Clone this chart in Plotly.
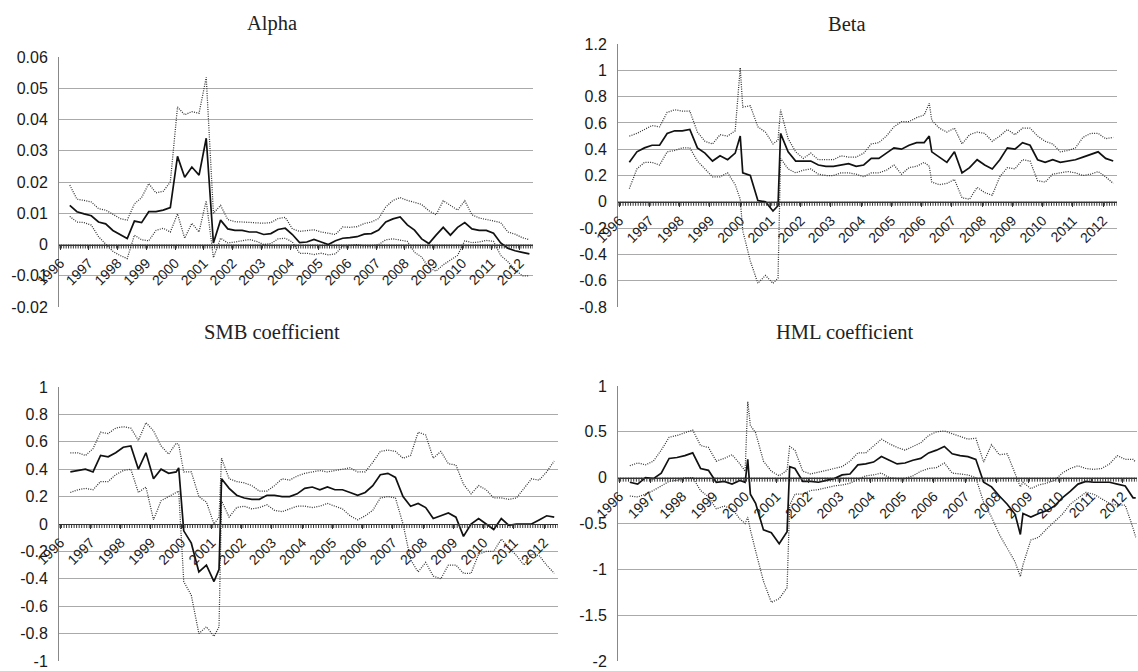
import plotly.graph_objects as go

# ---------------- data (month index: 0 = Jan 1996) ----------------
n_categories = 198
year_ticks = [0, 12, 24, 36, 48, 60, 72, 84, 96, 108, 120, 132, 144, 156, 168, 180, 192]
year_labels = ["1996", "1997", "1998", "1999", "2000", "2001", "2002", "2003", "2004",
               "2005", "2006", "2007", "2008", "2009", "2010", "2011", "2012"]

alpha_months = [4, 7, 10, 13, 16, 19, 22, 25, 28, 31, 34, 37, 40, 43, 46, 49, 52, 55, 58, 61,
                64, 67, 70, 73, 76, 79, 82, 85, 88, 91, 94, 97, 100, 103, 106, 109, 112, 115, 118, 121,
                124, 127, 130, 133, 136, 139, 142, 145, 148, 151, 154, 157, 160, 163, 166, 169, 172, 175, 178, 181,
                184, 187, 190, 193, 196]
alpha_est = [0.0125, 0.0105, 0.0098, 0.0092, 0.0072, 0.0066, 0.0045, 0.0033, 0.0019, 0.0075,
             0.0070, 0.0105, 0.0105, 0.0110, 0.0118, 0.0282, 0.0215, 0.0248, 0.0222, 0.0340,
             0.0005, 0.0078, 0.0050, 0.0045, 0.0045, 0.0040, 0.0040, 0.0032, 0.0035, 0.0048,
             0.0052, 0.0032, 0.0006, 0.0008, 0.0016, 0.0008, 0.0000, 0.0012, 0.0020, 0.0022,
             0.0025, 0.0033, 0.0035, 0.0046, 0.0072, 0.0082, 0.0088, 0.0063, 0.0046, 0.0018,
             0.0003, 0.0030, 0.0055, 0.0030, 0.0055, 0.0070, 0.0050, 0.0045, 0.0045, 0.0036,
             0.0005, -0.0012, -0.0020, -0.0025, -0.0030]
alpha_upper = [0.0190, 0.0145, 0.0141, 0.0136, 0.0115, 0.0110, 0.0097, 0.0083, 0.0078, 0.0130,
               0.0150, 0.0195, 0.0165, 0.0170, 0.0200, 0.0440, 0.0415, 0.0425, 0.0420, 0.0535,
               0.0100, 0.0125, 0.0080, 0.0073, 0.0072, 0.0070, 0.0068, 0.0068, 0.0070, 0.0083,
               0.0087, 0.0050, 0.0042, 0.0045, 0.0047, 0.0040, 0.0035, 0.0032, 0.0056, 0.0055,
               0.0057, 0.0067, 0.0072, 0.0083, 0.0120, 0.0141, 0.0150, 0.0141, 0.0135, 0.0128,
               0.0108, 0.0095, 0.0140, 0.0125, 0.0110, 0.0140, 0.0095, 0.0085, 0.0080, 0.0073,
               0.0070, 0.0040, 0.0033, 0.0022, 0.0015]
alpha_lower = [0.0090, 0.0072, 0.0070, 0.0062, 0.0025, 0.0000, -0.0022, -0.0035, -0.0045, 0.0030,
               0.0015, 0.0012, 0.0045, 0.0052, 0.0040, 0.0098, 0.0020, 0.0068, 0.0040, 0.0140,
               -0.0042, 0.0020, 0.0005, 0.0008, 0.0012, 0.0016, 0.0010, 0.0000, 0.0003, 0.0018,
               0.0020, 0.0008, -0.0028, -0.0028, -0.0032, -0.0028, -0.0033, -0.0030, -0.0005, -0.0003,
               0.0000, -0.0005, -0.0005, 0.0000, 0.0015, 0.0018, 0.0015, 0.0010, -0.0025, -0.0040,
               -0.0075, -0.0085, -0.0065, -0.0050, -0.0035, 0.0012, 0.0006, 0.0008, 0.0013, 0.0010,
               -0.0035, -0.0055, -0.0080, -0.0100, -0.0100]

beta_months = [4, 7, 10, 13, 16, 19, 22, 25, 28, 31, 34, 37, 40, 43, 46, 48, 49, 52, 55, 58,
               61, 63, 64, 67, 70, 73, 76, 79, 82, 85, 88, 91, 94, 97, 100, 103, 106, 109, 112, 115,
               118, 121, 123, 124, 127, 130, 133, 136, 139, 142, 145, 148, 151, 154, 157, 160, 163, 166, 169, 172,
               175, 178, 181, 184, 187, 190, 193, 196]
beta_est = [0.30, 0.38, 0.41, 0.43, 0.43, 0.52, 0.54, 0.54, 0.55, 0.41, 0.37, 0.31, 0.35, 0.32, 0.37, 0.50, 0.22, 0.20, 0.01, 0.00,
            -0.07, -0.03, 0.52, 0.38, 0.31, 0.31, 0.31, 0.28, 0.27, 0.27, 0.28, 0.29, 0.27, 0.28, 0.33, 0.33, 0.37, 0.41, 0.40, 0.43,
            0.45, 0.45, 0.50, 0.38, 0.34, 0.30, 0.38, 0.22, 0.26, 0.32, 0.28, 0.25, 0.32, 0.41, 0.40, 0.45, 0.43, 0.32, 0.30, 0.32,
            0.30, 0.31, 0.32, 0.34, 0.36, 0.38, 0.33, 0.31]
beta_upper = [0.50, 0.52, 0.55, 0.58, 0.57, 0.68, 0.70, 0.69, 0.69, 0.53, 0.46, 0.44, 0.51, 0.50, 0.54, 1.02, 0.72, 0.73, 0.57, 0.53,
              0.44, 0.47, 0.70, 0.48, 0.38, 0.33, 0.37, 0.32, 0.32, 0.32, 0.35, 0.34, 0.34, 0.37, 0.44, 0.45, 0.50, 0.57, 0.61, 0.61,
              0.64, 0.66, 0.75, 0.62, 0.56, 0.53, 0.56, 0.44, 0.51, 0.53, 0.52, 0.46, 0.50, 0.55, 0.51, 0.56, 0.56, 0.50, 0.46, 0.44,
              0.38, 0.39, 0.41, 0.49, 0.52, 0.52, 0.48, 0.49]
beta_lower = [0.10, 0.25, 0.30, 0.30, 0.28, 0.38, 0.39, 0.41, 0.41, 0.31, 0.25, 0.19, 0.19, 0.22, 0.13, 0.02, -0.22, -0.45, -0.62, -0.56,
              -0.62, -0.58, 0.33, 0.25, 0.22, 0.24, 0.25, 0.21, 0.20, 0.20, 0.22, 0.22, 0.21, 0.19, 0.22, 0.22, 0.24, 0.28, 0.21, 0.26,
              0.27, 0.30, 0.27, 0.15, 0.13, 0.14, 0.17, 0.03, 0.02, 0.11, 0.07, 0.05, 0.19, 0.26, 0.25, 0.32, 0.31, 0.16, 0.15, 0.21,
              0.22, 0.23, 0.22, 0.20, 0.21, 0.23, 0.19, 0.14]

smb_months = [4, 7, 10, 13, 16, 19, 22, 25, 28, 31, 34, 37, 40, 43, 46, 47, 49, 52, 55, 58,
              61, 63, 64, 67, 70, 73, 76, 79, 82, 85, 88, 91, 94, 97, 100, 103, 106, 109, 112, 115,
              118, 121, 124, 127, 130, 133, 136, 139, 142, 145, 148, 151, 154, 157, 160, 163, 166, 169, 172, 175,
              178, 181, 184, 187, 190, 193, 196]
smb_est = [0.38, 0.39, 0.40, 0.38, 0.50, 0.49, 0.52, 0.56, 0.57, 0.40, 0.52, 0.33, 0.40, 0.37, 0.38, 0.41, -0.05, -0.14, -0.35, -0.30,
           -0.42, -0.33, 0.33, 0.26, 0.21, 0.19, 0.18, 0.18, 0.21, 0.21, 0.20, 0.20, 0.22, 0.26, 0.27, 0.25, 0.27, 0.25, 0.25, 0.23,
           0.21, 0.23, 0.28, 0.36, 0.37, 0.34, 0.20, 0.13, 0.15, 0.12, 0.04, 0.06, 0.08, 0.05, -0.09, 0.00, 0.04, 0.00, -0.04, 0.04,
           -0.01, 0.00, 0.00, 0.00, 0.03, 0.06, 0.05]
smb_upper = [0.52, 0.52, 0.50, 0.55, 0.67, 0.66, 0.70, 0.71, 0.70, 0.61, 0.74, 0.68, 0.57, 0.51, 0.59, 0.58, 0.38, 0.38, 0.20, 0.16,
             0.00, 0.05, 0.48, 0.33, 0.31, 0.30, 0.28, 0.24, 0.24, 0.28, 0.33, 0.32, 0.35, 0.37, 0.38, 0.39, 0.38, 0.39, 0.40, 0.41,
             0.38, 0.38, 0.45, 0.53, 0.54, 0.53, 0.48, 0.50, 0.67, 0.65, 0.48, 0.53, 0.44, 0.43, 0.29, 0.22, 0.28, 0.25, 0.19, 0.19,
             0.18, 0.19, 0.26, 0.33, 0.32, 0.38, 0.46]
smb_lower = [0.23, 0.25, 0.26, 0.25, 0.31, 0.31, 0.36, 0.39, 0.40, 0.23, 0.27, 0.03, 0.17, 0.20, 0.23, 0.24, -0.42, -0.52, -0.80, -0.75,
             -0.82, -0.75, 0.17, 0.05, 0.12, 0.13, 0.11, 0.12, 0.14, 0.10, 0.09, 0.11, 0.13, 0.13, 0.12, 0.13, 0.15, 0.13, 0.11, 0.06,
             0.03, 0.06, 0.10, 0.19, 0.20, 0.19, 0.00, -0.26, -0.35, -0.28, -0.38, -0.40, -0.30, -0.30, -0.36, -0.36, -0.22, -0.20, -0.20, -0.11,
             -0.17, -0.23, -0.30, -0.22, -0.23, -0.30, -0.36]

hml_months = [4, 7, 10, 13, 16, 19, 22, 25, 28, 31, 34, 37, 40, 43, 46, 48, 49, 50, 52, 55,
              58, 61, 64, 65, 67, 70, 73, 76, 79, 82, 85, 88, 91, 94, 97, 100, 103, 106, 109, 112,
              115, 118, 121, 124, 127, 130, 133, 136, 139, 142, 145, 148, 151, 153, 154, 157, 160, 163, 166, 169,
              172, 175, 178, 181, 184, 187, 190, 193, 196, 197]
hml_est = [-0.05, -0.07, 0.00, -0.01, 0.05, 0.21, 0.22, 0.24, 0.27, 0.10, 0.08, -0.05, -0.04, -0.07, -0.03, -0.05, 0.20, -0.18, -0.28, -0.57,
           -0.60, -0.72, -0.59, 0.12, 0.10, -0.04, -0.04, -0.05, -0.03, -0.01, 0.03, 0.04, 0.14, 0.15, 0.17, 0.23, 0.19, 0.15, 0.16, 0.19,
           0.21, 0.27, 0.30, 0.34, 0.26, 0.24, 0.23, 0.20, -0.05, -0.10, -0.20, -0.29, -0.40, -0.62, -0.39, -0.43, -0.39, -0.36, -0.31, -0.22,
           -0.15, -0.07, -0.04, -0.05, -0.05, -0.05, -0.07, -0.09, -0.22, -0.22]
hml_upper = [0.13, 0.16, 0.14, 0.18, 0.30, 0.44, 0.46, 0.49, 0.52, 0.35, 0.33, 0.18, 0.21, 0.25, 0.15, 0.07, 0.83, 0.57, 0.49, 0.18,
             0.07, 0.02, 0.08, 0.34, 0.30, 0.07, 0.04, 0.06, 0.08, 0.10, 0.12, 0.18, 0.27, 0.27, 0.34, 0.42, 0.37, 0.33, 0.30, 0.34,
             0.38, 0.46, 0.50, 0.51, 0.48, 0.45, 0.42, 0.43, 0.17, 0.36, 0.25, 0.26, 0.05, -0.10, -0.05, -0.12, -0.08, -0.06, -0.03, 0.05,
             0.10, 0.13, 0.10, 0.09, 0.10, 0.15, 0.24, 0.20, 0.20, 0.17]
hml_lower = [-0.20, -0.21, -0.18, -0.14, -0.09, -0.04, -0.03, 0.00, 0.00, -0.14, -0.21, -0.34, -0.31, -0.34, -0.45, -0.50, -0.43, -0.57, -0.80, -1.13,
             -1.36, -1.32, -1.20, -0.30, -0.18, -0.18, -0.14, -0.13, -0.11, -0.09, -0.08, -0.06, -0.02, 0.02, 0.03, 0.05, 0.00, -0.01, -0.01, 0.02,
             0.07, 0.10, 0.11, 0.16, 0.05, 0.04, 0.03, 0.00, -0.27, -0.43, -0.62, -0.77, -0.92, -1.08, -0.95, -0.68, -0.65, -0.56, -0.48, -0.40,
             -0.29, -0.22, -0.16, -0.18, -0.23, -0.28, -0.30, -0.30, -0.55, -0.65]

alpha_yticks = [-0.02, -0.01, 0, 0.01, 0.02, 0.03, 0.04, 0.05, 0.06]
alpha_ylabels = ["-0.02", "-0.01", "0", "0.01", "0.02", "0.03", "0.04", "0.05", "0.06"]
beta_yticks = [-0.8, -0.6, -0.4, -0.2, 0, 0.2, 0.4, 0.6, 0.8, 1.0, 1.2]
beta_ylabels = ["-0.8", "-0.6", "-0.4", "-0.2", "0", "0.2", "0.4", "0.6", "0.8", "1", "1.2"]
smb_yticks = [-1, -0.8, -0.6, -0.4, -0.2, 0, 0.2, 0.4, 0.6, 0.8, 1]
smb_ylabels = ["-1", "-0.8", "-0.6", "-0.4", "-0.2", "0", "0.2", "0.4", "0.6", "0.8", "1"]
hml_yticks = [-2, -1.5, -1, -0.5, 0, 0.5, 1]
hml_ylabels = ["-2", "-1.5", "-1", "-0.5", "0", "0.5", "1"]

titles = ["Alpha", "Beta", "SMB coefficient", "HML coefficient"]

# ---------------- layout geometry (pixels) ----------------
W, H = 1138, 671
panels = [
    dict(months=alpha_months, est=alpha_est, up=alpha_upper, lo=alpha_lower,
         yt=alpha_yticks, yl=alpha_ylabels, yr=[-0.02, 0.06],
         x0=59, x1=533, ytop=57, ybot=307, tx=272, ty=24),
    dict(months=beta_months, est=beta_est, up=beta_upper, lo=beta_lower,
         yt=beta_yticks, yl=beta_ylabels, yr=[-0.8, 1.2],
         x0=618, x1=1117, ytop=44, ybot=307, tx=847, ty=24),
    dict(months=smb_months, est=smb_est, up=smb_upper, lo=smb_lower,
         yt=smb_yticks, yl=smb_ylabels, yr=[-1, 1],
         x0=59, x1=558, ytop=387, ybot=661, tx=272, ty=332),
    dict(months=hml_months, est=hml_est, up=hml_upper, lo=hml_lower,
         yt=hml_yticks, yl=hml_ylabels, yr=[-2, 1],
         x0=618, x1=1137, ytop=386, ybot=661, tx=844, ty=332),
]

SANS = "Liberation Sans, Arial, sans-serif"
fig = go.Figure()
layout = dict(width=W, height=H, margin=dict(l=0, r=0, t=0, b=0, autoexpand=False),
              autosize=False, paper_bgcolor="white", plot_bgcolor="white", showlegend=False,
              font=dict(family=SANS, color="#1a1a1a"))
annotations = []
shapes = []

dot_line = dict(color="#333", width=1.25, dash="1px,1.3px")
solid_line = dict(color="#111", width=1.7)
TICK_COLOR = "#333"

for k, p in enumerate(panels, start=1):
    sfx = "" if k == 1 else str(k)
    xd = [p["x0"] / W, p["x1"] / W]
    yd = [1 - p["ybot"] / H, 1 - p["ytop"] / H]
    r0, r1 = p["yr"]
    zero_pos = yd[0] + (0 - r0) / (r1 - r0) * (yd[1] - yd[0])

    for ys, ln in ((p["up"], dot_line), (p["lo"], dot_line), (p["est"], solid_line)):
        fig.add_trace(go.Scatter(x=p["months"], y=ys, mode="lines", line=ln,
                                 xaxis="x" + sfx, yaxis="y" + sfx, hoverinfo="skip"))

    # monthly category tick marks hanging below the zero-level axis line
    for b in range(n_categories + 1):
        shapes.append(dict(type="line", xref="x" + sfx, yref="y" + sfx,
                           x0=b - 0.5, x1=b - 0.5, ysizemode="pixel", yanchor=0,
                           y0=0, y1=-4, line=dict(color=TICK_COLOR, width=1), layer="above"))

    layout["xaxis" + sfx] = dict(
        domain=xd, range=[-0.5, n_categories - 0.5], anchor="free", position=zero_pos,
        automargin=True,
        showline=True, linecolor=TICK_COLOR, linewidth=1.2, showgrid=False, zeroline=False,
        tickmode="array", tickvals=year_ticks, ticktext=year_labels, tickangle=-45,
        ticks="outside", ticklen=4, tickcolor=TICK_COLOR, tickwidth=1,
        tickfont=dict(size=14, family=SANS, color="#1a1a1a"),
        fixedrange=True)
    layout["yaxis" + sfx] = dict(
        domain=yd, range=p["yr"], anchor="x" + sfx, automargin=False,
        tickmode="array", tickvals=p["yt"], ticktext=p["yl"],
        showgrid=True, gridcolor="#aaaaaa", gridwidth=1, zeroline=False,
        showline=True, linecolor="#888", linewidth=1, ticks="",
        ticklabelstandoff=7, ticklabeloverflow="allow",
        tickfont=dict(size=16, family=SANS, color="#1a1a1a"),
        fixedrange=True)
    annotations.append(dict(text=titles[k - 1], xref="paper", yref="paper",
                            x=p["tx"] / W, y=1 - p["ty"] / H, xanchor="center", yanchor="middle",
                            showarrow=False,
                            font=dict(family="Liberation Serif, Times New Roman, serif", size=20.5, color="#222")))

layout["annotations"] = annotations
layout["shapes"] = shapes
fig.update_layout(**layout)
fig.write_html("out.html")
